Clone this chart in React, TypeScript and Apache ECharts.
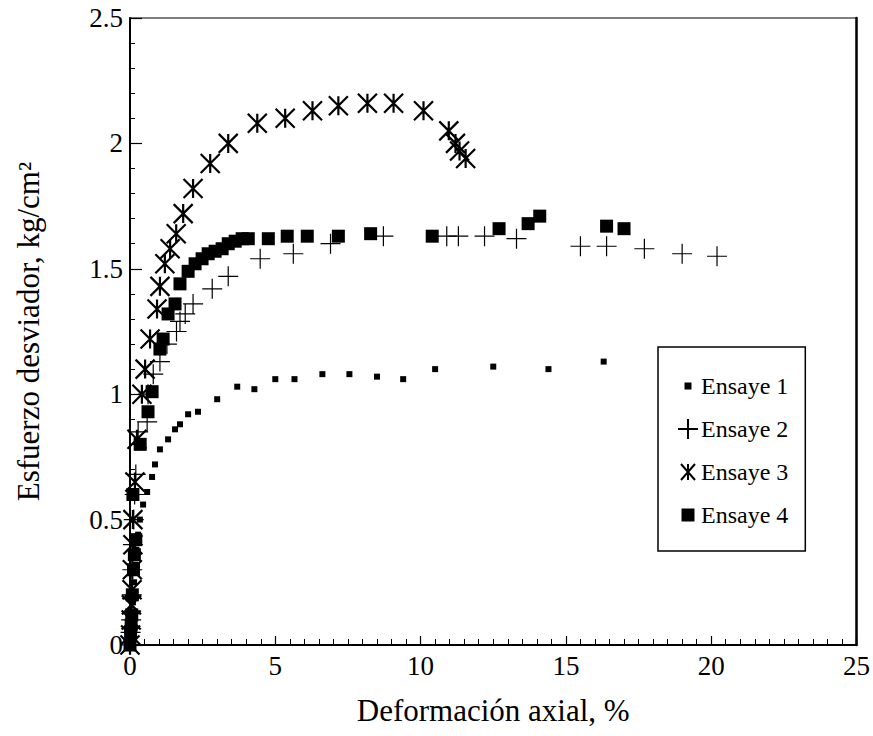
import React, { useEffect, useRef } from "react";
import * as echarts from "echarts";

// Ensaye 1 (small squares)
const ensaye1X = [0, 0.03, 0.06, 0.1, 0.14, 0.18, 0.22, 0.28, 0.34, 0.45, 0.59, 0.76, 0.86, 1.03, 1.31, 1.55, 1.72, 2.0, 2.34, 3.0, 3.69, 4.28, 5.0, 5.66, 6.62, 7.55, 8.5, 9.4, 10.5, 12.5, 14.4, 16.3];
const ensaye1Y = [0, 0.05, 0.1, 0.17, 0.25, 0.32, 0.38, 0.44, 0.5, 0.56, 0.61, 0.67, 0.72, 0.78, 0.82, 0.86, 0.88, 0.92, 0.93, 0.98, 1.03, 1.02, 1.06, 1.06, 1.08, 1.08, 1.07, 1.06, 1.1, 1.11, 1.1, 1.13];

// Ensaye 2 (plus)
const ensaye2X = [0, 0.02, 0.04, 0.06, 0.08, 0.1, 0.13, 0.16, 0.2, 0.28, 0.59, 0.62, 0.8, 1.03, 1.27, 1.6, 1.72, 1.9, 2.17, 2.83, 3.38, 4.48, 5.62, 6.9, 8.72, 10.9, 11.3, 12.2, 13.3, 15.5, 16.4, 17.7, 19.0, 20.2];
const ensaye2Y = [0, 0.05, 0.1, 0.2, 0.3, 0.4, 0.5, 0.6, 0.68, 0.85, 0.89, 1.0, 1.08, 1.13, 1.2, 1.25, 1.29, 1.32, 1.36, 1.42, 1.47, 1.54, 1.56, 1.6, 1.63, 1.63, 1.63, 1.63, 1.62, 1.59, 1.59, 1.58, 1.56, 1.55];

// Ensaye 3 (asterisk)
const ensaye3X = [0, 0.02, 0.04, 0.05, 0.07, 0.08, 0.1, 0.1, 0.17, 0.24, 0.41, 0.52, 0.69, 0.93, 1.03, 1.2, 1.38, 1.59, 1.83, 2.17, 2.76, 3.38, 4.38, 5.34, 6.28, 7.17, 8.17, 9.07, 10.1, 10.97, 11.2, 11.34, 11.55];
const ensaye3Y = [0, 0.04, 0.1, 0.16, 0.22, 0.3, 0.4, 0.5, 0.65, 0.82, 1.0, 1.1, 1.22, 1.34, 1.43, 1.52, 1.58, 1.64, 1.72, 1.82, 1.92, 2.0, 2.08, 2.1, 2.13, 2.15, 2.16, 2.16, 2.13, 2.05, 2.0, 1.97, 1.94];

// Ensaye 4 (filled squares)
const ensaye4X = [0, 0.02, 0.04, 0.06, 0.08, 0.12, 0.15, 0.2, 0.1, 0.35, 0.62, 0.76, 1.03, 1.14, 1.31, 1.55, 1.72, 2.0, 2.24, 2.48, 2.69, 2.93, 3.17, 3.38, 3.62, 3.86, 4.07, 4.76, 5.41, 6.1, 7.17, 8.28, 10.4, 12.7, 13.7, 14.1, 16.4, 17.0];
const ensaye4Y = [0, 0.04, 0.08, 0.12, 0.2, 0.3, 0.36, 0.42, 0.6, 0.8, 0.93, 1.01, 1.18, 1.22, 1.32, 1.36, 1.44, 1.49, 1.52, 1.54, 1.56, 1.57, 1.58, 1.6, 1.61, 1.62, 1.62, 1.62, 1.63, 1.63, 1.63, 1.64, 1.63, 1.66, 1.68, 1.71, 1.67, 1.66];

const seriesNames = ["Ensaye 1", "Ensaye 2", "Ensaye 3", "Ensaye 4"];
const xTickValues = [0, 5, 10, 15, 20, 25];
const yTickValues = [0, 0.5, 1, 1.5, 2, 2.5];

const FONT = "'Liberation Serif', 'Times New Roman', serif";
const PLUS = "path://M0,-10L0,10M-10,0L10,0";
const STAR = "path://M-8,-10L8,10M-8,10L8,-10M0,-10L0,10";
const LEG1 = "path://M-10,-10M-3.5,-3.5L3.5,-3.5L3.5,3.5L-3.5,3.5ZM10,10";
const LEG2 = "path://M-10,-10M0,-10L0,10M-10,0L10,0M10,10";
const LEG3 = "path://M-10,-10M-7,-8L7,8M-7,8L7,-8M0,-8L0,8M10,10";
const LEG4 = "path://M-10,-10M-6.5,-6.5L6.5,-6.5L6.5,6.5L-6.5,6.5ZM10,10";

const zip = (xs: number[], ys: number[]) => xs.map((x, i) => [x, ys[i]]);

export default function App() {
  const ref = useRef<HTMLDivElement>(null);
  useEffect(() => {
    if (!ref.current) return;
    const chart = echarts.init(ref.current, undefined, { renderer: "svg" });
    const axisText = { color: "#000", fontFamily: FONT, fontSize: 27 };
    chart.setOption({
      animation: false,
      backgroundColor: "#fff",
      grid: { left: 130, right: 16, top: 18, bottom: 91, show: true, borderColor: "#000", borderWidth: 1.2 },
      legend: {
        orient: "vertical",
        left: 658,
        top: 347,
        itemWidth: 20,
        itemHeight: 20,
        itemGap: 19,
        padding: [27, 17, 24, 19],
        borderColor: "#000",
        borderWidth: 1.5,
        textStyle: { color: "#000", fontFamily: FONT, fontSize: 24, padding: [0, 0, 0, -2] },
        data: [
          { name: seriesNames[0], icon: LEG1 },
          { name: seriesNames[1], icon: LEG2 },
          { name: seriesNames[2], icon: LEG3 },
          { name: seriesNames[3], icon: LEG4 },
        ],
      },
      xAxis: [
        {
          type: "value",
          min: 0,
          max: 25,
          interval: 5,
          name: "Deformación axial, %",
          nameLocation: "middle",
          nameGap: 50,
          nameTextStyle: { color: "#000", fontFamily: FONT, fontSize: 31 },
          axisLine: { lineStyle: { color: "#000", width: 2 } },
          axisTick: { inside: true, length: 9, lineStyle: { color: "#000", width: 1.2 } },
          minorTick: { show: true, splitNumber: 10, length: 6, lineStyle: { color: "#000", width: 1 } },
          splitLine: { show: false },
          axisLabel: { ...axisText, margin: 7, formatter: (v: number) => (xTickValues.includes(v) ? String(v) : "") },
        },
      ],
      yAxis: [
        {
          type: "value",
          min: 0,
          max: 2.5,
          interval: 0.5,
          name: "Esfuerzo desviador, kg/cm²",
          nameLocation: "middle",
          nameGap: 86,
          nameTextStyle: { color: "#000", fontFamily: FONT, fontSize: 31 },
          axisLine: { lineStyle: { color: "#000", width: 2 } },
          axisTick: { inside: true, length: 12, lineStyle: { color: "#000", width: 1.2 } },
          minorTick: { show: true, splitNumber: 5, length: 5, lineStyle: { color: "#000", width: 1 } },
          splitLine: { show: false },
          axisLabel: { ...axisText, margin: 7, formatter: (v: number) => (yTickValues.includes(v) ? String(v) : "") },
        },
        {
          type: "value",
          position: "right",
          min: 0,
          max: 2.5,
          interval: 0.5,
          axisLine: { show: true, lineStyle: { color: "#000", width: 2.5 } },
          axisTick: { show: false },
          axisLabel: { show: false },
          splitLine: { show: false },
        },
      ],
      series: [
        {
          name: seriesNames[0],
          type: "scatter",
          symbol: "rect",
          symbolSize: 6,
          itemStyle: { color: "#000", opacity: 1 },
          data: zip(ensaye1X, ensaye1Y),
        },
        {
          name: seriesNames[1],
          type: "scatter",
          symbol: PLUS,
          symbolSize: 20,
          itemStyle: { color: "rgba(0,0,0,0)", borderColor: "#000", borderWidth: 1.2, opacity: 1 },
          data: zip(ensaye2X, ensaye2Y),
        },
        {
          name: seriesNames[2],
          type: "scatter",
          symbol: STAR,
          symbolSize: 19,
          itemStyle: { color: "rgba(0,0,0,0)", borderColor: "#000", borderWidth: 2.2, opacity: 1 },
          data: zip(ensaye3X, ensaye3Y),
        },
        {
          name: seriesNames[3],
          type: "scatter",
          symbol: "rect",
          symbolSize: 13,
          itemStyle: { color: "#000", opacity: 1 },
          data: zip(ensaye4X, ensaye4Y),
        },
      ],
    });
    return () => chart.dispose();
  }, []);
  return <div ref={ref} style={{ position: "fixed", left: 0, top: 0, width: 873, height: 736 }} />;
}
